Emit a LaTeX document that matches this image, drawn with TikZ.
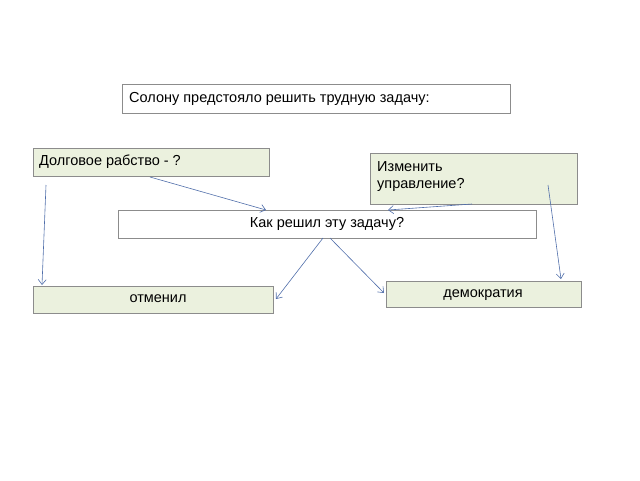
\documentclass[tikz,border=0pt]{standalone}
\usepackage{fontspec}
\setmainfont{Liberation Sans}
\usetikzlibrary{arrows.meta}
\definecolor{gfill}{RGB}{235,241,222}
\definecolor{arrc}{RGB}{80,110,170}
\begin{document}
\begin{tikzpicture}[x=1pt,y=-1pt,
  box/.style={draw=black!45,line width=0.6pt,inner sep=0pt},
  gbox/.style={box,fill=gfill},
  arr/.style={draw=arrc,line width=0.6pt,-{Straight Barb[length=5pt,width=8pt]}},
  txt/.style={font=\fontsize{14.5}{17}\selectfont,anchor=west,inner sep=0pt}]
\useasboundingbox (0,0) rectangle (640,480);
\draw[box,fill=white] (122,84) rectangle (510,113);
\node[txt] (t1) at (129,99) {Солону предстояло решить трудную задачу:};
\draw[gbox] (33,148) rectangle (269,176);
\node[txt] (t2) at (39,162) {Долговое рабство - ?};
\draw[gbox] (370,153) rectangle (577,204);
\node[txt,align=left] (t3) at (377,177) {Изменить\\управление?};
\draw[box,fill=white] (118,210) rectangle (536,238);
\node[txt,anchor=center] (t4) at (327,224) {Как решил эту задачу?};
\draw[gbox] (33,286) rectangle (273,313);
\node[txt,anchor=center] (t5) at (158,299) {отменил};
\draw[gbox] (386,281) rectangle (581,307);
\node[txt,anchor=center] (t6) at (483,295) {демократия};
\coordinate (a1) at (150,177); \coordinate (b1) at (266,210);
\coordinate (a2) at (46,185); \coordinate (b2) at (42,285);
\coordinate (a3) at (472,204); \coordinate (b3) at (388,210);
\coordinate (a4) at (548,185); \coordinate (b4) at (561,279);
\coordinate (a5) at (323,238); \coordinate (b5) at (276,299);
\coordinate (a6) at (330,238); \coordinate (b6) at (384,293);
\foreach \i in {1,...,6} \draw[arr] (a\i) -- (b\i);
\end{tikzpicture}
\end{document}
